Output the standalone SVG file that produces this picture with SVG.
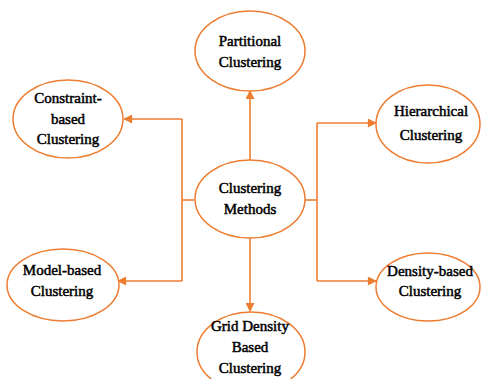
<svg xmlns="http://www.w3.org/2000/svg" width="482" height="379" viewBox="0 0 482 379">
  <style>
    .node ellipse { fill: #ffffff; stroke: #ED7D31; stroke-width: 1.5; }
    .node text { font-family: "Liberation Serif", "Times New Roman", serif; font-size: 15px; fill: #000000; text-anchor: middle; stroke: #000000; stroke-width: 0.5; }
    .conn { fill: none; stroke: #ED7D31; stroke-width: 1.6; }
  </style>
  <defs>
    <marker id="arrow" viewBox="0 0 10 10" refX="9" refY="5" markerWidth="10" markerHeight="9" markerUnits="userSpaceOnUse" orient="auto">
      <path d="M0,0 L10,5 L0,10 z" fill="#ED7D31"/>
    </marker>
  </defs>
  <rect width="482" height="379" fill="#ffffff"/>

  <!-- connectors from the central node to each method -->
  <g id="connectors">
    <line class="conn" x1="250" y1="160" x2="250" y2="91" marker-end="url(#arrow)"/>
    <line class="conn" x1="250" y1="238" x2="250" y2="311" marker-end="url(#arrow)"/>
    <line class="conn" x1="194" y1="200" x2="182" y2="200"/>
    <line class="conn" x1="182" y1="119" x2="182" y2="281"/>
    <line class="conn" x1="182" y1="119" x2="124" y2="119" marker-end="url(#arrow)"/>
    <line class="conn" x1="182" y1="281" x2="118" y2="281" marker-end="url(#arrow)"/>
    <line class="conn" x1="305" y1="200" x2="317" y2="200"/>
    <line class="conn" x1="317" y1="123" x2="317" y2="281"/>
    <line class="conn" x1="317" y1="123" x2="376" y2="123" marker-end="url(#arrow)"/>
    <line class="conn" x1="317" y1="281" x2="376" y2="281" marker-end="url(#arrow)"/>
  </g>

  <g id="partitional" class="node">
    <ellipse cx="250" cy="51" rx="55" ry="40"/>
    <text x="250" y="46">Partitional</text>
    <text x="250" y="67">Clustering</text>
  </g>
  <g id="constraint" class="node">
    <ellipse cx="68" cy="119" rx="55" ry="39"/>
    <text x="68" y="103">Constraint-</text>
    <text x="68" y="124">based</text>
    <text x="68" y="144">Clustering</text>
  </g>
  <g id="methods" class="node">
    <ellipse cx="250" cy="199" rx="55" ry="39"/>
    <text x="250" y="193">Clustering</text>
    <text x="250" y="214">Methods</text>
  </g>
  <g id="model" class="node">
    <ellipse cx="63" cy="285" rx="56" ry="36"/>
    <text x="62" y="275">Model-based</text>
    <text x="62" y="296">Clustering</text>
  </g>
  <g id="hierarchical" class="node">
    <ellipse cx="428" cy="124" rx="52" ry="39"/>
    <text x="431" y="116">Hierarchical</text>
    <text x="431" y="140">Clustering</text>
  </g>
  <g id="density" class="node">
    <ellipse cx="428" cy="287" rx="52" ry="34"/>
    <text x="430" y="276">Density-based</text>
    <text x="430" y="296">Clustering</text>
  </g>
  <g id="grid" class="node">
    <ellipse cx="251" cy="352" rx="54" ry="40"/>
    <text x="250" y="331">Grid Density</text>
    <text x="250" y="352">Based</text>
    <text x="250" y="373">Clustering</text>
  </g>
</svg>
